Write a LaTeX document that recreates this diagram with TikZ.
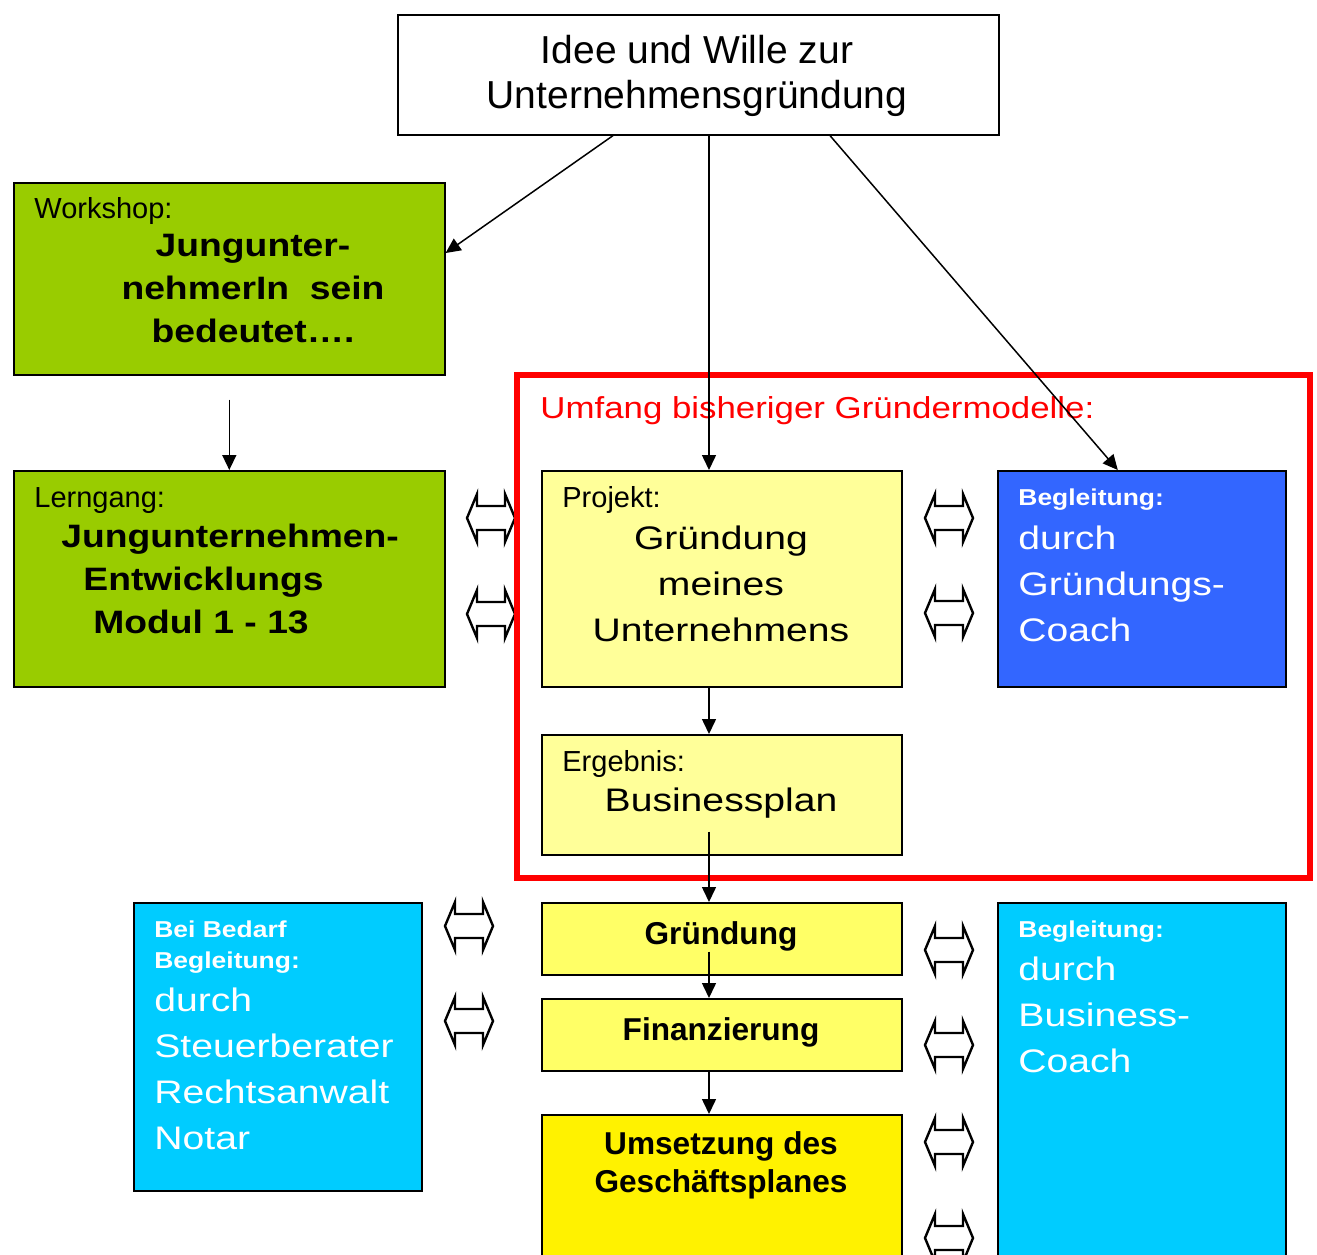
\documentclass[tikz,border=0pt]{standalone}
\usepackage{fontspec}
\setmainfont{Liberation Sans}
\newfontfamily\widefont[FakeStretch=1.2]{Liberation Sans}
\newfontfamily\semiwide[FakeStretch=1.15]{Liberation Sans}
\usetikzlibrary{arrows.meta,calc}
\definecolor{lgreen}{HTML}{99CC00}
\definecolor{paleyellow}{HTML}{FFFF99}
\definecolor{midyellow}{HTML}{FFFF66}
\definecolor{coachblue}{HTML}{3366FF}
\definecolor{coachcyan}{HTML}{00CCFF}
\tikzset{
  box/.style={draw, line width=0.8pt, inner sep=0pt, anchor=north west},
  flow/.style={-{Triangle[length=7.5pt,width=7pt]}, line width=0.75pt},
  tag/.style={anchor=base west, inner sep=0pt, font=\fontsize{14.5}{17}\selectfont},
  greenbold/.style={inner sep=0pt, font=\semiwide\bfseries\fontsize{16.2}{21.5}\selectfont},
  smallbold/.style={anchor=base west, inner sep=0pt, text=white, font=\semiwide\bfseries\fontsize{11.5}{15.5}\selectfont},
  bigtext/.style={inner sep=0pt, font=\widefont\fontsize{16.3}{23}\selectfont},
  stepbold/.style={inner sep=0pt, font=\bfseries\fontsize{15.8}{19}\selectfont},
  dblarrow/.pic={\draw[line width=1.2pt, line join=miter] (-24,0) -- (-14,-24) -- (-14,-12) -- (14,-12) -- (14,-24) -- (24,0) -- (14,24) -- (14,12) -- (-14,12) -- (-14,24) -- cycle;}
}
\begin{document}
\begin{tikzpicture}[x=0.5pt, y=-0.5pt]
  \clip (0,0) rectangle (1317,1254);
  \fill[white] (0,0) rectangle (1317,1254);
  \node[box, fill=white, minimum width=300.5pt, minimum height=60pt] (idee) at (397,14) {};
  \node[box, fill=lgreen, minimum width=215.5pt, minimum height=96pt] (work) at (13,182) {};
  \node[box, fill=lgreen, minimum width=215.5pt, minimum height=108pt] (lern) at (13,470) {};
  \node[box, fill=paleyellow, minimum width=180pt, minimum height=108pt] (proj) at (541,470) {};
  \node[box, fill=coachblue, minimum width=144pt, minimum height=108pt] (gcoach) at (997,470) {};
  \node[box, fill=paleyellow, minimum width=180pt, minimum height=60pt] (erg) at (541,734) {};
  \node[box, fill=midyellow, minimum width=180pt, minimum height=36pt] (gruend) at (541,902) {};
  \node[box, fill=midyellow, minimum width=180pt, minimum height=36pt] (finanz) at (541,998) {};
  \node[box, fill=yellow, minimum width=180pt, minimum height=80pt] (umsetz) at (541,1114) {};
  \node[box, fill=coachcyan, minimum width=144pt, minimum height=144pt] (bedarf) at (133,902) {};
  \node[box, fill=coachcyan, minimum width=144pt, minimum height=190pt] (bcoach) at (997,902) {};

  \foreach \p in {(491,518),(491,614),(949,518),(949,613),(469,926),(469,1021),(949,950),(949,1045),(949,1142),(949,1238)}
    \pic at \p {dblarrow};
  \draw[red, line width=2.75pt] (517,375) rectangle (1310,878);

  \node[align=center, inner sep=0pt, font=\fontsize{19.5}{22.5}\selectfont] (ideetxt) at (697,75.5) {Idee und Wille zur\\Unternehmensgründung};
  \node[tag] (worktag) at (34,218) {Workshop:};
  \node[greenbold, align=center] (worktxt) at (253,289) {Jungunter-\\nehmerIn\ \ sein\\bedeutet….};
  \node[tag] (lerntag) at (34,507) {Lerngang:};
  \node[greenbold, align=left, anchor=west] (lerntxt) at (61,579) {Jungunternehmen-\\\hspace*{11pt}Entwicklungs\\\hspace*{16pt}Modul 1 - 13};
  \node[anchor=base west, inner sep=0pt, text=red, font=\semiwide\fontsize{15.15}{18}\selectfont] (umfang) at (540,418) {Umfang bisheriger Gründermodelle:};
  \node[tag] (projtag) at (562,507) {Projekt:};
  \node[bigtext, align=center] (projtxt) at (721,584) {Gründung\\meines\\Unternehmens};
  \node[smallbold] (gcoachtag) at (1018,505) {Begleitung:};
  \node[bigtext, align=left, anchor=west, text=white] (gcoachtxt) at (1018,584) {durch\\Gründungs-\\Coach};
  \node[tag] (ergtag) at (562,771) {Ergebnis:};
  \node[bigtext] (ergtxt) at (721,803) {Businessplan};
  \node[stepbold] (gruendtxt) at (721,936) {Gründung};
  \node[stepbold] (finanztxt) at (721,1032) {Finanzierung};
  \node[stepbold, align=center] (umsetztxt) at (721,1165) {Umsetzung des\\Geschäftsplanes};
  \node[smallbold, anchor=west, align=left] (bedarftag) at (154,947.5) {Bei Bedarf\\Begleitung:};
  \node[bigtext, align=left, anchor=west, text=white] (bedarftxt) at (154,1069) {durch\\Steuerberater\\Rechtsanwalt\\Notar};
  \node[smallbold] (bcoachtag) at (1018,937) {Begleitung:};
  \node[bigtext, align=left, anchor=west, text=white] (bcoachtxt) at (1018,1015) {durch\\Business-\\Coach};

  \coordinate (spine) at (709,0);
  \draw[flow] ($(idee.south west)+(216,0)$) -- ($(work.north east)+(0,71)$);
  \draw[flow] (idee.south -| spine) -- (proj.north -| spine);
  \draw[flow] ($(idee.south west)+(433,0)$) -- ($(gcoach.north)+(-24,0)$);
  \draw[flow] ($(work.south)+(0,24)$) -- (lern.north);
  \draw[flow] (proj.south -| spine) -- (erg.north -| spine);
  \draw[flow] ($(erg.south -| spine)+(0,-24)$) -- (gruend.north -| spine);
  \draw[flow] ($(gruend.south -| spine)+(0,-24)$) -- (finanz.north -| spine);
  \draw[flow] (finanz.south -| spine) -- (umsetz.north -| spine);
\end{tikzpicture}
\end{document}
